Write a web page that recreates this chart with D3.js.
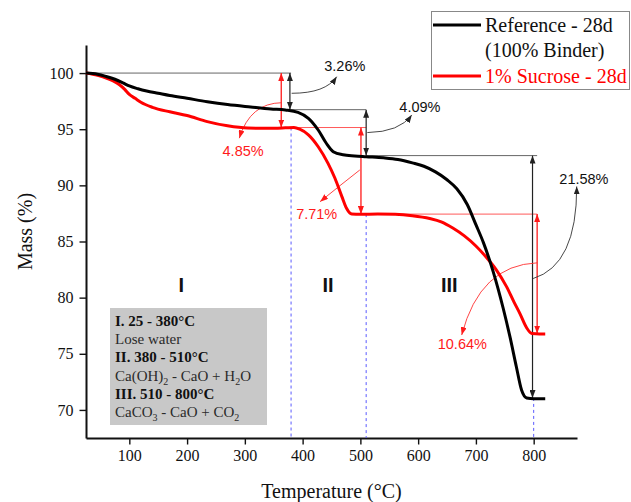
<!DOCTYPE html>
<html>
<head>
<meta charset="utf-8">
<script src="https://cdn.jsdelivr.net/npm/d3@7"></script>
<style>
  body { margin: 0; background: #fff; }
  svg { display: block; }
</style>
</head>
<body>
<svg id="chart"></svg>
<script>
// TGA curves
var tempRef = [25, 45, 60, 75, 90, 100, 115, 130, 150, 170, 200, 235, 270, 310, 345, 370, 392, 410, 427, 441, 453, 470, 490, 510, 540, 565, 590, 610, 630, 650, 667, 685, 700, 713, 730, 747, 759, 770, 779, 788, 800, 820];
var massRef = [100.0, 99.9, 99.7, 99.45, 99.1, 98.85, 98.6, 98.4, 98.2, 98.0, 97.75, 97.45, 97.2, 96.98, 96.8, 96.71, 96.5, 95.97, 94.93, 93.75, 93.0, 92.72, 92.62, 92.55, 92.45, 92.3, 92.0, 91.7, 91.2, 90.5, 89.7, 88.3, 86.5, 84.9, 82.3, 79.1, 76.5, 73.85, 71.78, 71.07, 71.0, 71.0];

var tempSuc = [25, 45, 60, 72, 83, 92, 100, 110, 120, 140, 170, 200, 235, 270, 305, 340, 370, 385, 395, 410, 427, 444, 456, 468, 476, 485, 500, 530, 560, 590, 620, 640, 660, 680, 700, 718, 735, 753, 766, 776, 788, 797, 810, 820];
var massSuc = [100.0, 99.8, 99.56, 99.3, 98.96, 98.55, 98.1, 97.75, 97.4, 96.95, 96.55, 96.22, 95.68, 95.3, 95.1, 95.08, 95.12, 95.15, 95.0, 94.5, 93.44, 91.96, 90.63, 89.0, 87.96, 87.45, 87.42, 87.44, 87.42, 87.3, 87.05, 86.75, 86.2, 85.5, 84.6, 83.6, 82.5, 80.98, 79.6, 78.6, 77.3, 76.8, 76.77, 76.77];

// decomposition steps
var stepTemps = [380, 510, 800];
var refLevels = [100, 96.74, 92.65, 71.07];
var sucLevels = [100, 95.15, 87.44, 76.8];
var refLoss = ["3.26%", "4.09%", "21.58%"];
var sucLoss = ["4.85%", "7.71%", "10.64%"];
var phases = ["I", "II", "III"];

var xTicks = [100, 200, 300, 400, 500, 600, 700, 800];
var xMinor = [50, 150, 250, 350, 450, 550, 650, 750, 850];
var yTicks = [70, 75, 80, 85, 90, 95, 100];
var yMinor = [72.5, 77.5, 82.5, 87.5, 92.5, 97.5, 102.5];

var legendNames = ["Reference - 28d", "1% Sucrose - 28d"];

var width = 631, height = 502;
var margin = {top: 45, right: 54, bottom: 64, left: 86};
var serif = "'Liberation Serif','Times New Roman',serif";
var sans = "'Liberation Sans',Arial,sans-serif";

var svg = d3.select("#chart")
  .attr("width", width)
  .attr("height", height)
  .style("font-family", serif);

var x = d3.scaleLinear().domain([25, 875]).range([margin.left, width - margin.right]);
var y = d3.scaleLinear().domain([67.5, 102.5]).range([height - margin.bottom, margin.top]);

// arrow heads
var defs = svg.append("defs");
[["ah-black", "#222"], ["ah-red", "#ff1a1a"]].forEach(function(m) {
  defs.append("marker")
    .attr("id", m[0])
    .attr("viewBox", "0 0 8 6")
    .attr("refX", 8).attr("refY", 3)
    .attr("markerWidth", 8).attr("markerHeight", 6)
    .attr("markerUnits", "userSpaceOnUse")
    .attr("orient", "auto-start-reverse")
    .append("path")
      .attr("d", "M0,0 L8,3 L0,6 Z")
      .attr("fill", m[1]);
});

// axes
var gx = svg.append("g").attr("transform", "translate(0," + y.range()[0] + ")");
gx.call(d3.axisBottom(x).tickValues(xMinor).tickSize(4).tickFormat("").tickSizeOuter(0));
gx.call(d3.axisBottom(x).tickValues(xTicks).tickSize(6.5).tickSizeOuter(0).tickPadding(5));
gx.attr("font-family", serif).attr("font-size", 16);
gx.selectAll("text").style("font-family", serif).style("font-size", "16px").attr("fill", "#111");
gx.selectAll("line").attr("stroke", "#111").attr("stroke-width", 1.4);
gx.selectAll(".domain").attr("stroke", "#111").attr("stroke-width", 2);

var gy = svg.append("g").attr("transform", "translate(" + x.range()[0] + ",0)");
gy.call(d3.axisLeft(y).tickValues(yMinor).tickSize(4).tickFormat("").tickSizeOuter(0));
gy.call(d3.axisLeft(y).tickValues(yTicks).tickSize(6.5).tickSizeOuter(0).tickPadding(6));
gy.attr("font-family", serif).attr("font-size", 16);
gy.selectAll("text").style("font-family", serif).style("font-size", "16px").attr("fill", "#111");
gy.selectAll("line").attr("stroke", "#111").attr("stroke-width", 1.4);
gy.selectAll(".domain").attr("stroke", "#111").attr("stroke-width", 2);

svg.append("text")
  .attr("x", (x.range()[0] + x.range()[1]) / 2)
  .attr("y", 498)
  .attr("text-anchor", "middle")
  .style("font-size", "20px")
  .attr("fill", "#111")
  .text("Temperature (°C)");

svg.append("text")
  .attr("transform", "translate(32," + ((y.range()[0] + y.range()[1]) / 2 - 10) + ") rotate(-90)")
  .attr("text-anchor", "middle")
  .style("font-size", "20px")
  .attr("fill", "#111")
  .text("Mass (%)");

// blue dashed phase borders
var annot = svg.append("g");
stepTemps.forEach(function(t, i) {
  annot.append("line")
    .attr("x1", x(t)).attr("x2", x(t))
    .attr("y1", y(i < 2 ? sucLevels[i + 1] : refLevels[i + 1])).attr("y2", y.range()[0])
    .attr("stroke", "#5a5aff").attr("stroke-width", 1)
    .attr("stroke-dasharray", "3,3");
});

// horizontal reference levels
var hBlack = [[25, 380, refLevels[0]], [380, 510, refLevels[1]], [510, 806, refLevels[2]]];
var hRed = [[380, 510, sucLevels[1]], [510, 806, sucLevels[2]]];
hBlack.forEach(function(h) {
  annot.append("line")
    .attr("x1", x(h[0])).attr("x2", x(h[1]))
    .attr("y1", y(h[2])).attr("y2", y(h[2]))
    .attr("stroke", "#666").attr("stroke-width", 1);
});
hRed.forEach(function(h) {
  annot.append("line")
    .attr("x1", x(h[0])).attr("x2", x(h[1]))
    .attr("y1", y(h[2])).attr("y2", y(h[2]))
    .attr("stroke", "#ff5a5a").attr("stroke-width", 1);
});

// double arrows for each loss
var refArrowT = [378, 510, 798];
var sucArrowT = [363, 501, 806];
refArrowT.forEach(function(t, i) {
  annot.append("line")
    .attr("x1", x(t)).attr("x2", x(t))
    .attr("y1", y(refLevels[i])).attr("y2", y(refLevels[i + 1]))
    .attr("stroke", "#222").attr("stroke-width", 1.2)
    .attr("marker-start", "url(#ah-black)")
    .attr("marker-end", "url(#ah-black)");
});
sucArrowT.forEach(function(t, i) {
  annot.append("line")
    .attr("x1", x(t)).attr("x2", x(t))
    .attr("y1", y(sucLevels[i])).attr("y2", y(sucLevels[i + 1]))
    .attr("stroke", "#ff1a1a").attr("stroke-width", 1.3)
    .attr("marker-start", "url(#ah-red)")
    .attr("marker-end", "url(#ah-red)");
});

// curves
var line = d3.line()
  .x(function(d) { return x(d[0]); })
  .y(function(d) { return y(d[1]); })
  .curve(d3.curveMonotoneX);

svg.append("path")
  .datum(d3.zip(tempSuc, massSuc))
  .attr("d", line)
  .attr("fill", "none")
  .attr("stroke", "#ff0000")
  .attr("stroke-width", 3)
  .attr("stroke-linejoin", "round");

svg.append("path")
  .datum(d3.zip(tempRef, massRef))
  .attr("d", line)
  .attr("fill", "none")
  .attr("stroke", "#000")
  .attr("stroke-width", 3)
  .attr("stroke-linejoin", "round");

// call-outs: start, control, end, label (all in data units)
var callouts = [
  {s: [381, 98.2], c: [440, 98.2], e: [459, 99.68], l: [473, 100.6], t: refLoss[0], red: false},
  {s: [512, 94.7], c: [568, 94.75], e: [589, 96.27], l: [603, 97.0], t: refLoss[1], red: false},
  {s: [799, 81.7], c: [875, 82.9], e: [874.5, 89.9], l: [887, 90.6], t: refLoss[2], red: false},
  {s: [364, 97.36], c: [309, 97.33], e: [290.4, 94.2], l: [297, 93.1], t: sucLoss[0], red: true},
  {s: [499, 91.37], c: [465, 90.0], e: [430.2, 88.55], l: [424.4, 87.5], t: sucLoss[1], red: true},
  {s: [806, 83.1], c: [707, 82.9], e: [675.4, 76.67], l: [676.5, 75.9], t: sucLoss[2], red: true}
];
callouts.forEach(function(c) {
  annot.append("path")
    .attr("d", "M" + x(c.s[0]) + "," + y(c.s[1]) + " Q" + x(c.c[0]) + "," + y(c.c[1]) + " " + x(c.e[0]) + "," + y(c.e[1]))
    .attr("fill", "none")
    .attr("stroke", c.red ? "#ff3030" : "#333")
    .attr("stroke-width", 0.9)
    .attr("marker-end", c.red ? "url(#ah-red)" : "url(#ah-black)");
  annot.append("text")
    .attr("x", x(c.l[0])).attr("y", y(c.l[1]))
    .attr("dy", "0.35em")
    .attr("text-anchor", "middle")
    .style("font-family", sans)
    .style("font-size", "14.5px")
    .attr("fill", c.red ? "#ff1a1a" : "#111")
    .text(c.t);
});

// phase numerals
var phaseT = [190, 444, 654];
svg.selectAll(".phase")
  .data(phases)
  .enter()
  .append("text")
    .attr("class", "phase")
    .attr("x", function(d, i) { return x(phaseT[i]); })
    .attr("y", y(81.1))
    .attr("dy", "0.35em")
    .attr("text-anchor", "middle")
    .style("font-family", sans)
    .style("font-weight", "bold")
    .style("font-size", "20px")
    .attr("fill", "#111")
    .text(function(d) { return d; });

// info box
var box = svg.append("g");
box.append("rect")
  .attr("x", 110).attr("y", 308).attr("width", 157).attr("height", 117)
  .attr("fill", "#c8c8c8");
var boxLines = [
  {bold: true, parts: [["I. 25 - 380°C"]]},
  {bold: false, parts: [["Lose water"]]},
  {bold: true, parts: [["II. 380 - 510°C"]]},
  {bold: false, parts: [["Ca(OH)"], ["2", "sub"], [" - CaO + H"], ["2", "sub"], ["O"]]},
  {bold: true, parts: [["III. 510 - 800°C"]]},
  {bold: false, parts: [["CaCO"], ["3", "sub"], [" - CaO + CO"], ["2", "sub"]]}
];
boxLines.forEach(function(ln, i) {
  var t = box.append("text")
    .attr("x", 115)
    .attr("y", 326 + i * 18.2)
    .style("font-size", "15px")
    .style("font-weight", ln.bold ? "bold" : "normal")
    .attr("fill", ln.bold ? "#111" : "#2a2a2a");
  var shifted = false;
  ln.parts.forEach(function(p) {
    var ts = t.append("tspan").text(p[0]);
    if (p[1] === "sub") {
      ts.attr("dy", 4).style("font-size", "10px");
      shifted = true;
    } else if (shifted) {
      ts.attr("dy", -4);
      shifted = false;
    }
  });
});

// legend
var lg = svg.append("g");
lg.append("rect")
  .attr("x", 431.5).attr("y", 11.5).attr("width", 198).attr("height", 78)
  .attr("fill", "#fff").attr("stroke", "#888").attr("stroke-width", 1);
var lgY = [25, 76];
var lgColor = ["#000", "#ff0000"];
legendNames.forEach(function(n, i) {
  lg.append("line")
    .attr("x1", 433).attr("x2", 481)
    .attr("y1", lgY[i]).attr("y2", lgY[i])
    .attr("stroke", lgColor[i]).attr("stroke-width", 3);
  lg.append("text")
    .attr("x", 485).attr("y", lgY[i] + 6.5)
    .style("font-size", "20px")
    .attr("fill", i ? "#ff0000" : "#111")
    .text(n);
});
lg.append("text")
  .attr("x", 485).attr("y", 57)
  .style("font-size", "20px")
  .attr("fill", "#111")
  .text("(100% Binder)");
</script>
</body>
</html>
